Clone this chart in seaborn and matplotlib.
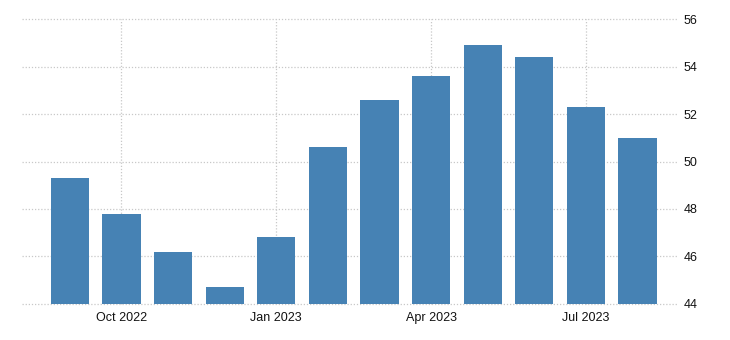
import matplotlib
matplotlib.use("Agg")
import matplotlib.pyplot as plt
import seaborn as sns
import pandas as pd

# monthly values, Sep 2022 - Aug 2023
months = ["Sep 2022", "Oct 2022", "Nov 2022", "Dec 2022", "Jan 2023", "Feb 2023",
          "Mar 2023", "Apr 2023", "May 2023", "Jun 2023", "Jul 2023", "Aug 2023"]
values = [49.3, 47.8, 46.2, 44.7, 46.8, 50.6, 52.6, 53.6, 54.9, 54.4, 52.3, 51.0]
tick_labels = ["Oct 2022", "Jan 2023", "Apr 2023", "Jul 2023"]
y_ticks = [44, 46, 48, 50, 52, 54, 56]

df = pd.DataFrame({"month": months, "value": values})

sns.set_style("white")
plt.rcParams["font.family"] = ["Liberation Sans", "DejaVu Sans"]

fig = plt.figure(figsize=(7.3, 3.4), dpi=100)
ax = fig.add_axes([0.030, 0.106, 0.897, 0.838])

sns.barplot(data=df, x="month", y="value", color="#4682b4", saturation=1,
            width=0.74, linewidth=0, ax=ax, zorder=3)

ax.set_ylim(44, 56)
ax.set_xlim(-0.93, 11.76)
ax.set_yticks(y_ticks)
ax.set_xticks([months.index(t) for t in tick_labels])
ax.set_xticklabels(tick_labels)

ax.yaxis.tick_right()
ax.tick_params(axis="both", length=0, labelsize=9, colors="#111111")
ax.tick_params(axis="y", pad=5)
ax.tick_params(axis="x", pad=6)
ax.grid(True, linestyle=(0, (1, 1.5)), color="#c8c8c8", linewidth=0.9, zorder=0)
for gl in ax.get_ygridlines() + ax.get_xgridlines():
    gl.set_clip_on(False)
ax.set_axisbelow(True)
ax.set_xlabel("")
ax.set_ylabel("")
for s in ax.spines.values():
    s.set_visible(False)

fig.savefig("out.png", dpi=100)
